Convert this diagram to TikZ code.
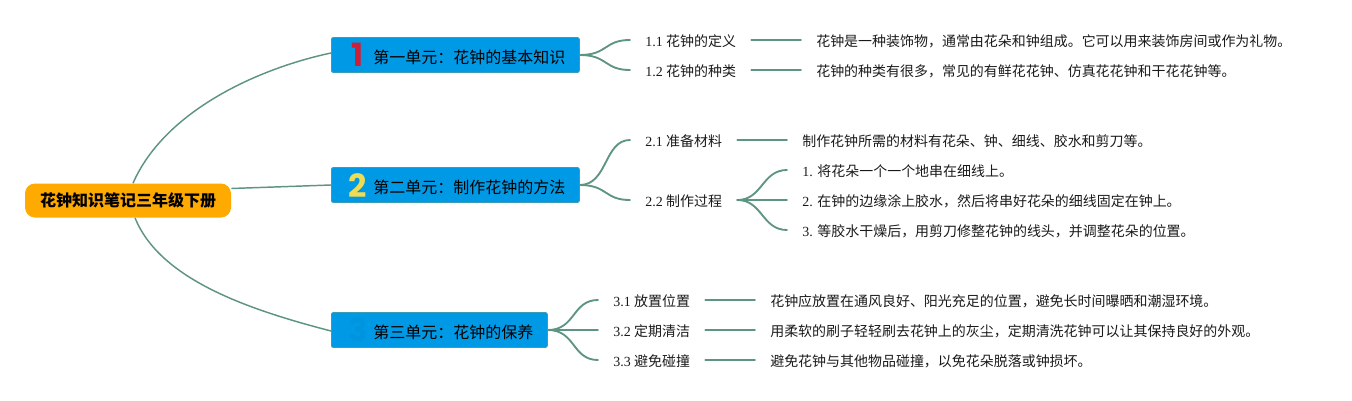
\documentclass[tikz,border=0pt]{standalone}
\usepackage{fontspec}
\setmainfont{Liberation Serif}
\newfontfamily\cjk{Noto Sans CJK SC}
\newfontfamily\digitfont{Poppins}
\definecolor{linkc}{HTML}{5E9483}
\definecolor{topicc}{HTML}{0099E5}
\definecolor{topicb}{HTML}{3A9DB5}
\definecolor{rootc}{HTML}{FFAA00}
\definecolor{inkc}{HTML}{1A1A1A}
\definecolor{badgered}{HTML}{CE1F3A}
\definecolor{badgeyellow}{HTML}{EEDC55}
\tikzset{
  rootbox/.style={rounded corners=7.5pt,fill=rootc,minimum width=154.5pt,minimum height=25.5pt,inner sep=0pt,font=\cjk\bfseries\fontsize{12}{14}\selectfont,text=black},
  topicbox/.style={anchor=west,rounded corners=1.5pt,fill=topicc,draw=topicb,line width=.6pt,minimum height=26.25pt,inner xsep=10.5pt,inner ysep=0pt,text height=12.2pt,text depth=0pt,font=\cjk\fontsize{12}{14}\selectfont,text=black},
  subbox/.style={anchor=west,inner xsep=11.25pt,inner ysep=0pt,text height=10pt,text depth=0pt,font=\fontsize{10.48}{12}\selectfont,text=inkc},
  badge/.style={inner sep=0pt,font=\digitfont\bfseries\fontsize{24}{24}\selectfont},
  link/.style={draw=linkc,line width=1.4pt,line cap=round},
  trunk/.style={draw=linkc,line width=1.1pt},
}
\newcommand{\topicpad}{\hspace*{21pt}}
\pgfdeclarelayer{under}
\pgfsetlayers{under,main}
\begin{document}
\begin{tikzpicture}[x=.75pt,y=-.75pt]
\useasboundingbox (0,0) rectangle (1352,400);
% root and topics
\node[rootbox] (root) at (128,200.5) {花钟知识笔记三年级下册};
\node[topicbox] (t1) at (331,55) {\topicpad 第一单元：花钟的基本知识};
\node[topicbox] (t2) at (331,185) {\topicpad 第二单元：制作花钟的方法};
\node[topicbox] (t3) at (331,330) {\topicpad 第三单元：花钟的保养};
\node[badge,text=badgered] (b1) at (358,54.5) {1};
\node[badge,text=badgeyellow] (b2) at (358,185.5) {2};
\node[badge,text=topicc!97!black] (b3) at (358,330) {3};
% links from the root
\begin{pgfonlayer}{under}
\draw[trunk] ([xshift=3.75pt]root.north) .. controls (165,110) and (260,68) .. ([yshift=1.5pt]t1.west);
\draw[trunk] ([yshift=9pt]root.east) -- (t2.west);
\draw[trunk] ([xshift=5.25pt]root.south) .. controls (160,280) and (250,310) .. ([yshift=-.75pt]t3.west);
\end{pgfonlayer}
% sub topics
\node[subbox] (s11) at (630,40) {1.1 {\cjk 花钟的定义}};
\node[subbox] (s12) at (630,70) {1.2 {\cjk 花钟的种类}};
\node[subbox] (s21) at (630,140) {2.1 {\cjk 准备材料}};
\node[subbox] (s22) at (630,200) {2.2 {\cjk 制作过程}};
\node[subbox] (s31) at (598,300) {3.1 {\cjk 放置位置}};
\node[subbox] (s32) at (598,330) {3.2 {\cjk 定期清洁}};
\node[subbox] (s33) at (598,360) {3.3 {\cjk 避免碰撞}};
% leaves
\node[subbox] (l11) at (801,40) {\cjk 花钟是一种装饰物，通常由花朵和钟组成。它可以用来装饰房间或作为礼物。};
\node[subbox] (l12) at (801,70) {\cjk 花钟的种类有很多，常见的有鲜花花钟、仿真花花钟和干花花钟等。};
\node[subbox] (l21) at (787,140) {\cjk 制作花钟所需的材料有花朵、钟、细线、胶水和剪刀等。};
\node[subbox] (l221) at (787,170) {1. {\cjk 将花朵一个一个地串在细线上。}};
\node[subbox] (l222) at (787,200) {2. {\cjk 在钟的边缘涂上胶水，然后将串好花朵的细线固定在钟上。}};
\node[subbox] (l223) at (787,230) {3. {\cjk 等胶水干燥后，用剪刀修整花钟的线头，并调整花朵的位置。}};
\node[subbox] (l31) at (755,300) {\cjk 花钟应放置在通风良好、阳光充足的位置，避免长时间曝晒和潮湿环境。};
\node[subbox] (l32) at (755,330) {\cjk 用柔软的刷子轻轻刷去花钟上的灰尘，定期清洗花钟可以让其保持良好的外观。};
\node[subbox] (l33) at (755,360) {\cjk 避免花钟与其他物品碰撞，以免花朵脱落或钟损坏。};
% topic links
\foreach \a/\b in {t1/s11,t1/s12,t2/s21,t2/s22,t3/s31,t3/s32,t3/s33}{
  \draw[link] (\a.east) .. controls +(28,0) and +(-26,0) .. (\b.west);
}
% sub to leaf
\foreach \a/\b in {s11/l11,s12/l12,s21/l21,s31/l31,s32/l32,s33/l33}{
  \draw[link] (\a.east) -- (\a.east -| \b.west);
}
\foreach \b in {l221,l222,l223}{
  \draw[link] (s22.east) .. controls +(25,0) and +(-25,0) .. (\b.west);
}
\end{tikzpicture}
\end{document}
